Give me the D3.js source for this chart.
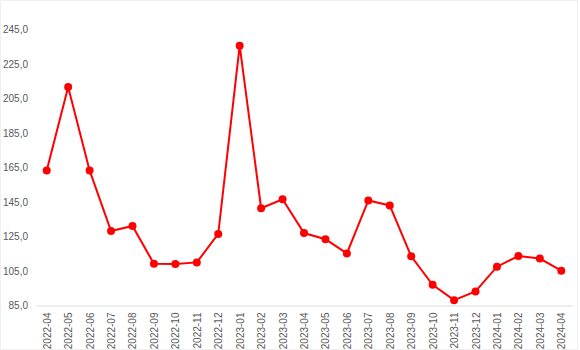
<!DOCTYPE html>
<html>
<head>
<meta charset="utf-8">
<script src="https://cdn.jsdelivr.net/npm/d3@7"></script>
<style>
  body { margin: 0; background: #fff; }
  .axis text { font-family: "Liberation Sans", Arial, sans-serif; font-size: 10px; fill: #595959; }
</style>
</head>
<body>
<div id="chart"></div>
<script>
// months on the x axis
var months = ["2022-04","2022-05","2022-06","2022-07","2022-08","2022-09","2022-10","2022-11","2022-12",
  "2023-01","2023-02","2023-03","2023-04","2023-05","2023-06","2023-07","2023-08","2023-09","2023-10",
  "2023-11","2023-12","2024-01","2024-02","2024-03","2024-04"];
// values
var values = [163.3, 211.6, 163.3, 128.2, 131.1, 109.2, 109.0, 110.0, 126.5,
  235.6, 141.4, 146.6, 127.0, 123.4, 115.2, 145.9, 143.0, 113.5, 97.0,
  88.1, 93.1, 107.5, 113.7, 112.2, 105.2];
var yTicks = [85, 105, 125, 145, 165, 185, 205, 225, 245];

let W = 580, H = 350;
let margin = {top: 29, right: 8, bottom: 45, left: 36};
let width = W - margin.left - margin.right,
    height = H - margin.top - margin.bottom;

let svg = d3.select("#chart").append("svg")
    .attr("width", W)
    .attr("height", H);

// faint outer frame
svg.append("rect")
    .attr("x", 0.5).attr("y", 0.5)
    .attr("width", W - 3).attr("height", H - 1)
    .attr("fill", "none")
    .attr("stroke", "#f0f0f0");

let g = svg.append("g")
    .attr("transform", "translate(" + margin.left + "," + margin.top + ")");

let x = d3.scalePoint()
    .domain(months)
    .range([0, width])
    .padding(0.5);

let y = d3.scaleLinear()
    .domain([85, 245])
    .range([height + 0.5, 0.5]);

let fmt = (v) => d3.format(".1f")(v).replace(".", ",");

// y axis labels only
let yAxis = g.append("g")
    .attr("class", "axis")
    .call(d3.axisLeft(y).tickValues(yTicks).tickFormat(fmt).tickSize(0).tickPadding(8));
yAxis.select(".domain").remove();

// x axis
let xAxis = g.append("g")
    .attr("class", "axis")
    .attr("transform", "translate(0," + (height + 0.5) + ")")
    .call(d3.axisBottom(x).tickSize(0).tickSizeOuter(0));
xAxis.select(".domain").attr("stroke", "#d9d9d9");
xAxis.selectAll("text")
    .attr("transform", "rotate(-90)")
    .attr("text-anchor", "end")
    .attr("x", -7)
    .attr("y", 0)
    .attr("dy", "0.35em");

let line = d3.line()
    .x((d, i) => x(months[i]))
    .y((d) => y(d));

g.append("path")
    .datum(values)
    .attr("fill", "none")
    .attr("stroke", "#ff0000")
    .attr("stroke-width", 2)
    .attr("d", line);

g.selectAll(".dot")
    .data(values)
    .enter().append("circle")
    .attr("class", "dot")
    .attr("cx", (d, i) => x(months[i]))
    .attr("cy", (d) => y(d))
    .attr("r", 4)
    .attr("fill", "#ff0000");
</script>
</body>
</html>
